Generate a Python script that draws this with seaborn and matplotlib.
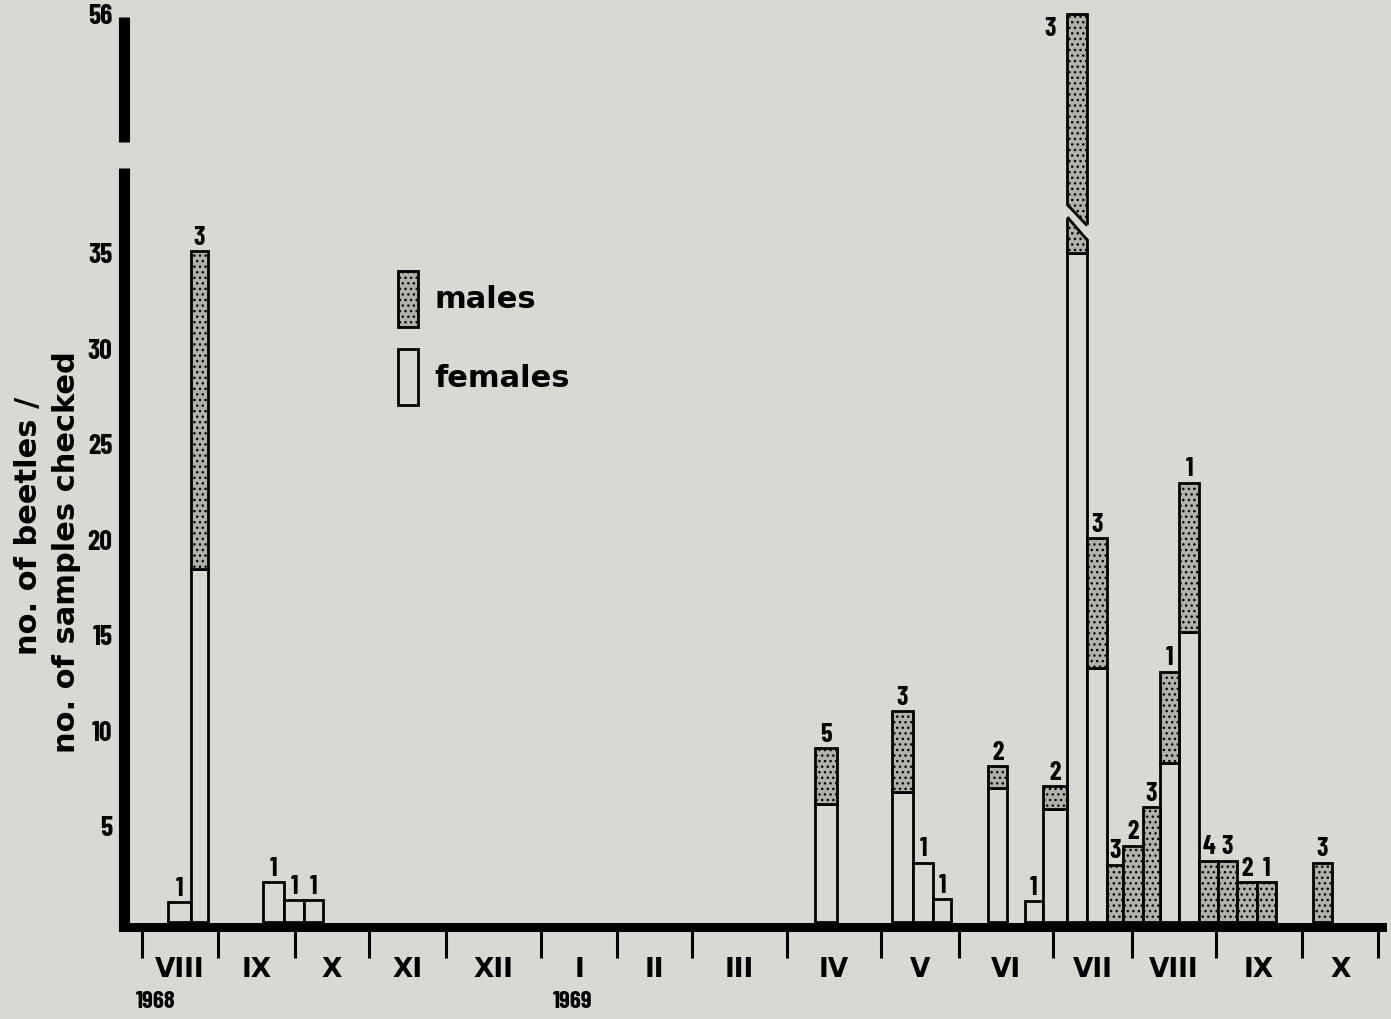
import numpy as np
import pandas as pd
import matplotlib
matplotlib.use("Agg")
import matplotlib.pyplot as plt
from matplotlib.patches import Patch, Polygon
from matplotlib.ticker import NullLocator
from matplotlib import font_manager
import seaborn as sns

# ---------------- data ----------------
month_labels = ["VIII", "IX", "X", "XI", "XII", "I", "II", "III",
                "IV", "V", "VI", "VII", "VIII", "IX", "X"]
year_labels = ["1968", "1969"]
year_label_pos = [0.18, 5.41]          # in month units

# sampling periods, month units (0 = start of Aug 1968)
period_start = [0.34, 0.645, 1.584, 1.857, 2.122,
                8.30, 9.14, 9.41, 9.67, 10.31, 10.70, 10.89,
                11.18, 11.43, 11.68, 11.89, 12.13, 12.33, 12.56,
                12.80, 13.02, 13.24, 13.47, 14.14]
period_end = [0.645, 0.868, 1.857, 2.122, 2.378,
              8.53, 9.41, 9.67, 9.90, 10.51, 10.89, 11.18,
              11.43, 11.68, 11.89, 12.13, 12.33, 12.56, 12.80,
              13.02, 13.24, 13.47, 13.69, 14.39]
females = [1.05, 18.5, 2.1, 1.15, 1.15,
           6.2, 6.8, 3.1, 1.2, 7.0, 1.1, 5.9,
           35.0, 13.3, 0, 0, 0, 8.3, 15.2,
           0, 0, 0, 0, 0]
males = [0, 16.6, 0, 0, 0,
         2.9, 4.25, 0, 0, 1.15, 0, 1.2,
         21.0, 6.8, 3.0, 4.0, 6.0, 4.8, 7.8,
         3.2, 3.2, 2.1, 2.1, 3.1]
n_samples = [1, 3, 1, 1, 1,
             5, 3, 1, 1, 2, 1, 2,
             3, 3, 3, 2, 3, 1, 1,
             4, 3, 2, 1, 3]
y_ticks = [5, 10, 15, 20, 25, 30, 35, 56]

# ---------------- style ----------------
BG = "#d9d9d3"
MALE = "#b2b2ac"
FEMALE = BG

sns.set_theme(style="white")
names = {f.name for f in font_manager.fontManager.ttflist}
NARROW = "DejaVu Sans"
for cand in ["Barlow Condensed", "Archivo Narrow", "Asap Condensed", "Encode Sans Condensed"]:
    if cand in names:
        NARROW = cand
        break
plt.rcParams["font.family"] = ["DejaVu Sans"]
for key in ["text.color", "axes.labelcolor", "xtick.color", "ytick.color"]:
    plt.rcParams[key] = "black"
plt.rcParams["hatch.color"] = "black"
plt.rcParams["hatch.linewidth"] = 1.0

fig = plt.figure(figsize=(13.91, 10.19), dpi=100, facecolor=BG)
ax = fig.add_axes([123.5 / 1391, 1 - 935 / 1019, (1382 - 123.5) / 1391, 925 / 1019])
ax.set_facecolor(BG)

# ---------------- scales ----------------
month_px = [76, 77, 74, 77, 95, 76, 75, 95, 94, 78, 94, 79, 84, 86, 76]
cum = np.concatenate([[0.0], np.cumsum(month_px)]).astype(float)
idx = np.arange(len(cum), dtype=float)
NM = len(month_px)


def fx(m):
    m = np.asarray(m, dtype=float)
    out = np.interp(m, idx, cum)
    out = np.where(m < 0, m * month_px[0], out)
    out = np.where(m > NM, cum[-1] + (m - NM) * month_px[-1], out)
    return out


def fx_inv(t):
    t = np.asarray(t, dtype=float)
    out = np.interp(t, cum, idx)
    out = np.where(t < 0, t / month_px[0], out)
    out = np.where(t > cum[-1], NM + (t - cum[-1]) / month_px[-1], out)
    return out


Y_BREAK, Y_K = 40.0, 0.469


def fy(v):
    v = np.asarray(v, dtype=float)
    return np.where(v <= Y_BREAK, v, Y_BREAK + (v - Y_BREAK) * Y_K)


def fy_inv(t):
    t = np.asarray(t, dtype=float)
    return np.where(t <= Y_BREAK, t, Y_BREAK + (t - Y_BREAK) / Y_K)


# ---------------- bars (seaborn) ----------------
starts = np.array(period_start)
ends = np.array(period_end)
mids = fx_inv((fx(starts) + fx(ends)) / 2)
edges = [float(v) for v in np.unique(np.round(np.concatenate([starts, ends]), 4))]
df = pd.DataFrame({
    "date": np.concatenate([(starts + ends) / 2, (starts + ends) / 2]),
    "beetles": np.concatenate([males, females]),
    "sex": ["males"] * len(mids) + ["females"] * len(mids),
})
sns.histplot(data=df, x="date", weights="beetles", hue="sex",
             hue_order=["males", "females"], bins=edges, multiple="stack",
             palette={"males": MALE, "females": FEMALE},
             edgecolor="black", linewidth=2.0, alpha=1, legend=False, ax=ax)

male_rgba = matplotlib.colors.to_rgba(MALE)
for p in ax.patches:
    if p.get_height() <= 1e-9:
        p.set_visible(False)
    elif np.allclose(p.get_facecolor(), male_rgba, atol=0.01):
        p.set_hatch("...")

ax.set_xscale("function", functions=(fx, fx_inv))
ax.set_yscale("function", functions=(fy, fy_inv))
ax.set_xlim(-0.243, 15.05)
ax.set_ylim(-0.68, 56.5)
ax.set_xlabel("")
ax.set_ylabel("")

# number of samples above each bar
totals = np.array(males) + np.array(females)
for s, e, tot, n, m in zip(starts, ends, totals, n_samples, mids):
    if tot > Y_BREAK:
        ax.annotate(str(n), xy=(s, tot), xytext=(-8, -2), textcoords="offset points",
                    ha="right", va="top", fontsize=19, fontweight="bold",
                    fontfamily=NARROW, zorder=6)
    else:
        ax.annotate(str(n), xy=(m, tot), xytext=(0, 1), textcoords="offset points",
                    ha="center", va="bottom", fontsize=19, fontweight="bold",
                    fontfamily=NARROW, zorder=6)

# break in the tallest bar
bi = int(np.argmax(totals))
bx0, bx1 = starts[bi], ends[bi]
pad = 0.03
ax.add_patch(Polygon([(bx0 - pad, 36.9), (bx0 - pad, 37.55), (bx1 + pad, 36.45), (bx1 + pad, 35.7)],
                     closed=True, facecolor=BG, edgecolor="none", zorder=3))
ax.plot([bx0, bx1], [37.55, 36.45], color="black", lw=2, zorder=4, solid_capstyle="butt")
ax.plot([bx0, bx1], [36.9, 35.7], color="black", lw=2, zorder=4, solid_capstyle="butt")

# ---------------- axes ----------------
for side in ["top", "right", "left"]:
    ax.spines[side].set_visible(False)
ax.spines["bottom"].set_position(("data", -0.236))
ax.spines["bottom"].set_linewidth(6.5)
ax.spines["bottom"].set_color("black")

ytr = ax.get_yaxis_transform()
ax.plot([0, 0], [-0.236, 39.48], transform=ytr, color="black", lw=8,
        solid_capstyle="butt", clip_on=False, zorder=5)
ax.plot([0, 0], [41.8, 55.7], transform=ytr, color="black", lw=8,
        solid_capstyle="butt", clip_on=False, zorder=5)

ax.set_xticks(np.arange(NM + 1))
ax.set_xticklabels([])
ax.set_xticks(np.arange(NM) + 0.5, minor=True)
ax.set_xticklabels(month_labels, minor=True, fontsize=19, fontweight="bold")
ax.tick_params(axis="x", which="major", direction="out", length=22, width=2.2,
               color="black", bottom=True)
ax.tick_params(axis="x", which="minor", length=0, pad=22, bottom=True)

ax.set_yticks(y_ticks)
ax.set_yticklabels([str(t) for t in y_ticks], fontsize=20, fontweight="bold",
                   fontfamily=NARROW)
ax.yaxis.set_minor_locator(NullLocator())
ax.tick_params(axis="y", length=0, pad=8, left=True)

for lbl, pos in zip(year_labels, year_label_pos):
    ax.text(pos, -0.072, lbl, transform=ax.get_xaxis_transform(), ha="center",
            va="center", fontsize=18, fontweight="bold", fontfamily=NARROW)

fig.text(28 / 1391, 1 - 526 / 1019, "no. of beetles /", rotation=90, ha="center",
         va="center", fontsize=22, fontweight="bold")
fig.text(67 / 1391, 1 - 552 / 1019, "no. of samples checked", rotation=90,
         ha="center", va="center", fontsize=22, fontweight="bold")

handles = [Patch(facecolor=MALE, edgecolor="black", hatch="...", linewidth=2),
           Patch(facecolor=FEMALE, edgecolor="black", linewidth=2)]
ax.legend(handles, ["males", "females"], loc="upper left",
          bbox_to_anchor=(398 / 1391, 1 - 271 / 1019), bbox_transform=fig.transFigure,
          frameon=False, borderpad=0, borderaxespad=0, handlelength=0.65,
          handleheight=2.45, handletextpad=0.55, labelspacing=0.72,
          prop={"weight": "bold", "size": 22})

fig.savefig("out.png", dpi=100, facecolor=BG)
